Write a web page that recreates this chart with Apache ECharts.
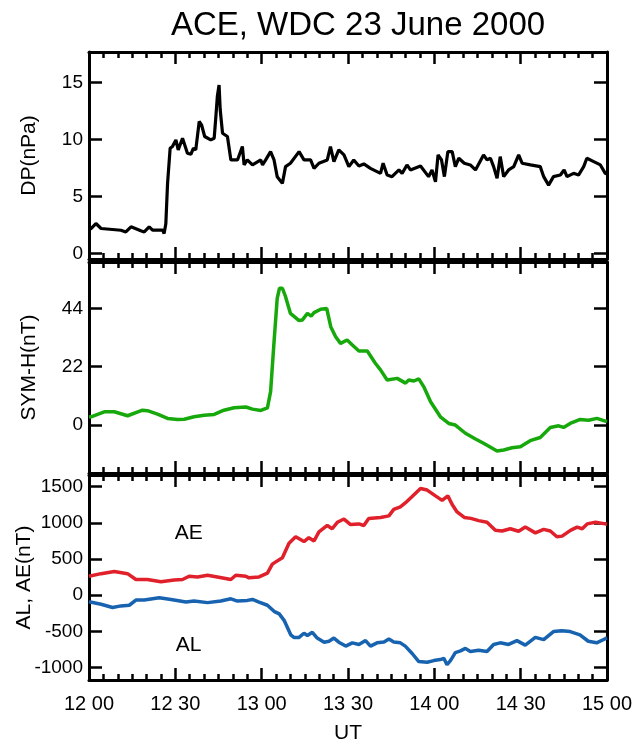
<!DOCTYPE html>
<html><head><meta charset="utf-8">
<script src="https://cdn.jsdelivr.net/npm/echarts@6/dist/echarts.min.js"></script>
<style>html,body{margin:0;padding:0;background:#fff}#c{width:637px;height:745px}</style>
</head><body><div id="c"></div><script>
// time in minutes after 12:00 UT
const xTickLabels = ['12 00','12 30','13 00','13 30','14 00','14 30','15 00'];

const dpTime = [0,0.7,2.4,4.2,11.1,12.8,14.6,18,19.2,20.9,22.1,25.6,26.1,26.7,27.3,28.2,29.0,30.2,31.0,32.5,34.2,35.4,36.3,37.1,38.3,39.1,40.2,42.3,43.5,44.0,44.6,45.2,45.6,46.4,48.1,49.3,51.6,53.3,53.9,55.0,56.8,59.7,60.3,61.4,63.1,64.3,65.4,67.2,68.3,70.0,73.0,74.7,77.0,78.2,79.9,82.8,83.9,85.1,86.8,88.6,90.3,92.0,93.8,95.5,97.8,101.3,102.2,103.6,105.3,107.7,108.8,110.5,111.7,115.2,118.0,119.2,120.4,121.3,122.5,123.5,124.7,126.2,127.3,128.5,130.4,132.5,134.3,137.1,138.3,139.5,140.6,141.8,142.9,144.1,145.8,147.6,149.3,150.5,153.4,156.8,158.0,159.7,161.4,163.8,165.1,166.1,168.4,170.1,171.9,173.0,175.4,177.7,179.4,180];
const dpVal = [2.1,2.18,2.62,2.18,2.03,1.88,2.33,1.98,1.88,2.33,2.03,2.03,1.74,2.6,6.15,9.24,9.39,9.97,9.09,10.12,8.8,8.71,9.24,9.09,11.59,11.3,10.27,9.97,10.12,11.74,13.8,14.8,12.6,10.56,10.27,8.21,8.21,9.39,7.77,8.21,7.77,8.21,7.77,8.21,8.94,8.21,6.74,6.15,7.62,7.92,8.94,8.21,8.21,7.47,7.92,8.21,9.39,8.06,9.09,8.65,7.62,8.21,7.68,7.86,7.47,7.03,7.92,6.88,6.74,7.33,7.03,7.77,7.33,7.68,6.74,7.33,6.29,8.65,8.21,6.74,8.94,8.94,7.62,8.36,7.92,7.77,7.33,8.65,8.21,8.36,7.62,6.59,8.5,6.74,7.33,7.62,8.65,7.92,7.77,7.62,6.74,6.0,6.74,6.88,7.33,6.74,7.03,6.88,7.62,8.36,8.06,7.77,7.03,7.0];
const dpTicks = [0,5,10,15];

const symTime = [0,0.7,5.3,8.8,13.4,18.6,20.3,23.8,27.3,30.8,33.1,36.5,40.0,43.5,46.9,50.4,54.5,56.8,59.7,62.0,63.1,64.3,65.4,66.2,67.2,68.3,70.0,73.0,74.1,75.9,77.2,78.2,80.5,82.6,84.0,85.7,87.4,89.7,91.5,93.8,96.7,99.5,101.3,103.6,107.1,110.0,111.1,112.9,114.6,116.3,118.7,122.1,125.0,127.3,130.8,134.3,137.1,141.8,144.1,147.0,149.9,153.3,156.8,160.3,163.2,164.9,167.2,170.7,173.6,176.5,179.4,180];
const symVal = [3.0,3.1,5.0,5.0,3.5,5.6,5.4,4.1,2.5,2.1,2.2,3.1,3.7,4.0,5.6,6.5,6.8,6.0,5.5,6.5,12.6,31.4,47.8,51.6,51.6,48.4,42.1,39.4,39.6,42.1,41.1,42.4,43.7,44.0,37.1,33.3,30.8,32.1,30.2,27.9,27.9,23.3,20.8,17.0,17.6,15.8,17.0,16.6,17.4,14.5,8.8,3.1,0.6,0.0,-3.1,-5.3,-6.9,-9.8,-9.4,-8.6,-8.2,-5.9,-4.7,-0.9,-0.3,-0.9,0.6,2.1,1.8,2.5,1.5,1.3];
const symTicks = [0,22,44];

const aeTime = [0,4.2,8.8,13.4,16.3,20.3,25.0,29.6,32.5,34.8,37.7,41.2,44.6,49.3,51.0,54.5,55.6,59.1,62.0,63.7,64.9,67.2,69.5,71.8,74.7,76.4,78.2,79.9,82.8,84.5,86.3,88.6,90.9,93.8,95.5,97.2,101.3,104.2,105.9,108.2,109.9,112.3,115.2,117.5,120.4,122.7,124.7,126.2,127.9,130.4,132.7,135.4,138.3,141.2,143.5,146.4,149.3,151.6,155.1,158.0,160.3,162.6,164.4,167.3,169.6,171.4,173.1,176.0,179.4,180];
const aeVal = [262,298,328,298,218,218,186,209,218,262,253,276,253,218,276,262,240,253,306,430,461,519,718,807,741,794,749,874,963,918,1007,1052,976,985,963,1061,1074,1096,1185,1221,1274,1363,1474,1452,1372,1310,1372,1252,1150,1074,1061,1030,1007,896,887,918,883,941,861,910,887,807,816,896,941,918,985,1007,985,980];

const alTime = [0,4.2,8.2,11.1,14.0,16.3,19.2,24.4,28.5,33.7,36.5,41.2,45.8,49.3,51.6,55.0,56.8,59.1,62.0,64.3,66.1,67.8,70.1,71.2,73.0,74.7,75.9,77.6,79.3,81.7,83.4,85.1,86.8,89.2,91.5,93.8,96.1,97.8,100.1,102.5,104.2,105.9,108.2,109.9,112.3,114.6,117.5,119.8,122.1,123.3,124.4,125.6,127.3,129.1,130.8,132.5,135.4,138.3,140.6,142.9,145.8,148.7,151.6,155.1,158.0,161.4,164.3,167.2,170.6,173.5,176.4,179.4,180];
const alVal = [-89,-124,-169,-147,-138,-67,-67,-36,-58,-94,-80,-102,-80,-49,-80,-71,-58,-94,-138,-222,-258,-346,-546,-582,-582,-524,-555,-511,-591,-648,-635,-591,-648,-702,-657,-679,-626,-702,-657,-644,-604,-644,-657,-702,-804,-915,-924,-902,-888,-870,-959,-902,-791,-768,-733,-777,-759,-777,-679,-657,-679,-626,-688,-582,-613,-502,-489,-502,-546,-635,-657,-600,-590];
const aTicks = [-1000,-500,0,500,1000,1500];

const annotations = [ {text:'AE', t:34.7, v:851}, {text:'AL', t:34.6, v:-695} ];

const FONT = '"Liberation Sans", Arial, sans-serif';
const BLACK = '#000';
const grids = [
  {left:89, right:30, top:52, height:207},
  {left:89, right:30, top:262, height:211},
  {left:89, right:30, top:475, height:210}
];
const yRanges = [[-0.5,17.7],[-18.1,61.5],[-1170,1660]];
const yTickSets = [dpTicks, symTicks, aTicks];
const yNames = ['DP(nPa)','SYM-H(nT)','AL, AE(nT)'];
const yNameGaps = [49, 49, 54];

const xAxes = [], yAxes = [];
for (let i = 0; i < 3; i++) {
  ['bottom','top'].forEach(pos => {
    const isBottomLabel = (pos === 'bottom' && i === 2);
    xAxes.push({
      type:'value', gridIndex:i, position:pos, min:0, max:180, interval:30,
      axisLine:{show:true, onZero:false, lineStyle:{color:BLACK, width:3}},
      axisTick:{show:true, inside:true, length:12, lineStyle:{color:BLACK, width:2.5}},
      minorTick:{show:true, splitNumber:6, length:6, lineStyle:{color:BLACK, width:2.5}},
      splitLine:{show:false}, minorSplitLine:{show:false},
      axisLabel:{show:isBottomLabel, margin:14, color:BLACK, fontSize:20, fontFamily:FONT,
        formatter:v => xTickLabels[Math.round(v/30)]},
      name: isBottomLabel ? 'UT' : '', nameLocation:'middle', nameGap:43, nameMoveOverlap:false,
      nameTextStyle:{color:BLACK, fontSize:21, fontFamily:FONT}
    });
  });
  ['left','right'].forEach(pos => {
    yAxes.push({
      type:'value', gridIndex:i, position:pos, min:yRanges[i][0], max:yRanges[i][1],
      axisLine:{show:true, onZero:false, lineStyle:{color:BLACK, width:3}},
      axisTick:{show:true, inside:true, length:13, lineStyle:{color:BLACK, width:2.5}, customValues:yTickSets[i]},
      splitLine:{show:false},
      axisLabel:{show:pos==='left', customValues:yTickSets[i], margin:6, color:BLACK, fontSize:19, fontFamily:FONT,
        formatter:v => String(v)},
      name: pos==='left' ? yNames[i] : '', nameLocation:'middle', nameRotate:90, nameGap:yNameGaps[i], nameMoveOverlap:false,
      nameTextStyle:{color:BLACK, fontSize:21, fontFamily:FONT}
    });
  });
}

const pairs = (ts, vs) => ts.map((t, k) => [t, vs[k]]);
const lineSeries = (idx, data, color, width) => ({
  type:'line', xAxisIndex:idx*2, yAxisIndex:idx*2, data, showSymbol:false, symbol:'none',
  lineStyle:{color, width}, itemStyle:{color}, animation:false, z:5
});

const s1 = lineSeries(0, pairs(dpTime, dpVal), '#000000', 3.2);
const s2 = lineSeries(1, pairs(symTime, symVal), '#17a80c', 3.5);
const s3 = lineSeries(2, pairs(aeTime, aeVal), '#e0202a', 3.5);
const s4 = lineSeries(2, pairs(alTime, alVal), '#1763b0', 3.5);
s3.markPoint = {
  symbol:'rect', symbolSize:1, itemStyle:{color:'rgba(0,0,0,0)'}, animation:false,
  label:{show:true, position:'inside', color:BLACK, fontSize:21, fontFamily:FONT, formatter:p => p.name},
  data: annotations.map(a => ({name:a.text, coord:[a.t, a.v]}))
};

const chart = echarts.init(document.getElementById('c'), null, {renderer:'canvas'});
chart.setOption({
  animation:false,
  backgroundColor:'#fff',
  title:{text:'ACE, WDC 23 June 2000', left:353, top:4, textAlign:'center',
    textStyle:{color:BLACK, fontSize:33, fontWeight:'normal', fontFamily:FONT}},
  grid:grids,
  xAxis:xAxes,
  yAxis:yAxes,
  series:[s1, s2, s3, s4]
});
</script></body></html>
